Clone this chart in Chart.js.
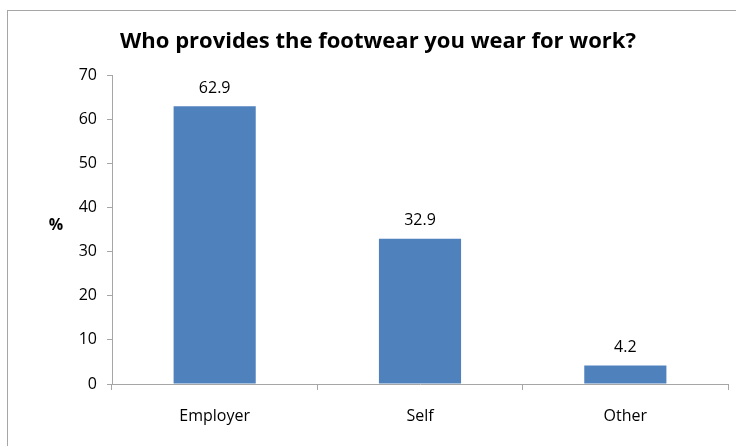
<!DOCTYPE html>
<html>
<head>
<meta charset="utf-8">
<script src="https://cdn.jsdelivr.net/npm/chart.js@4/dist/chart.umd.min.js"></script>
<style>
  html, body { margin: 0; padding: 0; background: #fff; overflow: hidden; }
  #wrap { position: absolute; left: 0; top: 0; width: 736px; height: 446px; overflow: hidden; }
  #frame { position: absolute; left: 7px; top: 10px; width: 760px; height: 460px; border: 1px solid #a6a6a6; pointer-events: none; }
</style>
</head>
<body>
<div id="wrap">
  <canvas id="c" width="736" height="446"></canvas>
  <div id="frame"></div>
</div>
<script>
const titleText = "Who provides the footwear you wear for work?";
const categories = ["Employer", "Self", "Other"];
const values = [62.9, 32.9, 4.2];
const yTicks = [0, 10, 20, 30, 40, 50, 60, 70];
const yAxisTitle = "%";

const FONT = "'Open Sans', Lato, sans-serif";

const labelPlugin = {
  id: 'extras',
  afterDatasetsDraw(chart) {
    const ctx = chart.ctx;
    const meta = chart.getDatasetMeta(0);
    ctx.save();
    ctx.fillStyle = "#000";
    ctx.textAlign = "center";
    ctx.textBaseline = "middle";
    ctx.font = "16px " + FONT;
    meta.data.forEach((bar, i) => {
      ctx.fillText(values[i].toFixed(1), bar.x, bar.y - 18);
    });
    const ys = chart.scales.y;
    ctx.font = "bold 16px " + FONT;
    ctx.fillText(yAxisTitle, 56, (ys.top + ys.bottom) / 2 - 4);
    ctx.font = "bold 22px " + FONT;
    ctx.fillText(titleText, 378, 42);
    ctx.restore();
  }
};

new Chart(document.getElementById('c'), {
  type: 'bar',
  data: {
    labels: categories,
    datasets: [{
      data: values,
      backgroundColor: '#4F81BD',
      borderWidth: 0,
      categoryPercentage: 1.0,
      barPercentage: 0.4
    }]
  },
  options: {
    responsive: false,
    animation: false,
    devicePixelRatio: 1,
    layout: { padding: { left: 72, right: 8, top: 75, bottom: 6 } },
    plugins: {
      legend: { display: false },
      tooltip: { enabled: false },
      title: { display: false }
    },
    scales: {
      x: {
        afterFit(scale) { scale.height = 56; },
        grid: { display: true, drawOnChartArea: false, drawTicks: true, tickLength: 6, color: '#a6a6a6', offset: true },
        border: { display: true, color: '#a6a6a6', width: 1 },
        ticks: { color: '#000', font: { family: FONT, size: 16 }, padding: 17 }
      },
      y: {
        min: 0,
        max: 70,
        afterBuildTicks(scale) { scale.ticks = yTicks.map(v => ({ value: v })); },
        afterFit(scale) { scale.width = 40; },
        grid: { display: true, drawOnChartArea: false, drawTicks: true, tickLength: 5, color: '#a6a6a6' },
        border: { display: true, color: '#a6a6a6', width: 1 },
        ticks: { color: '#000', font: { family: FONT, size: 16 }, padding: 10, stepSize: 10 }
      }
    }
  },
  plugins: [labelPlugin]
});
</script>
</body>
</html>
